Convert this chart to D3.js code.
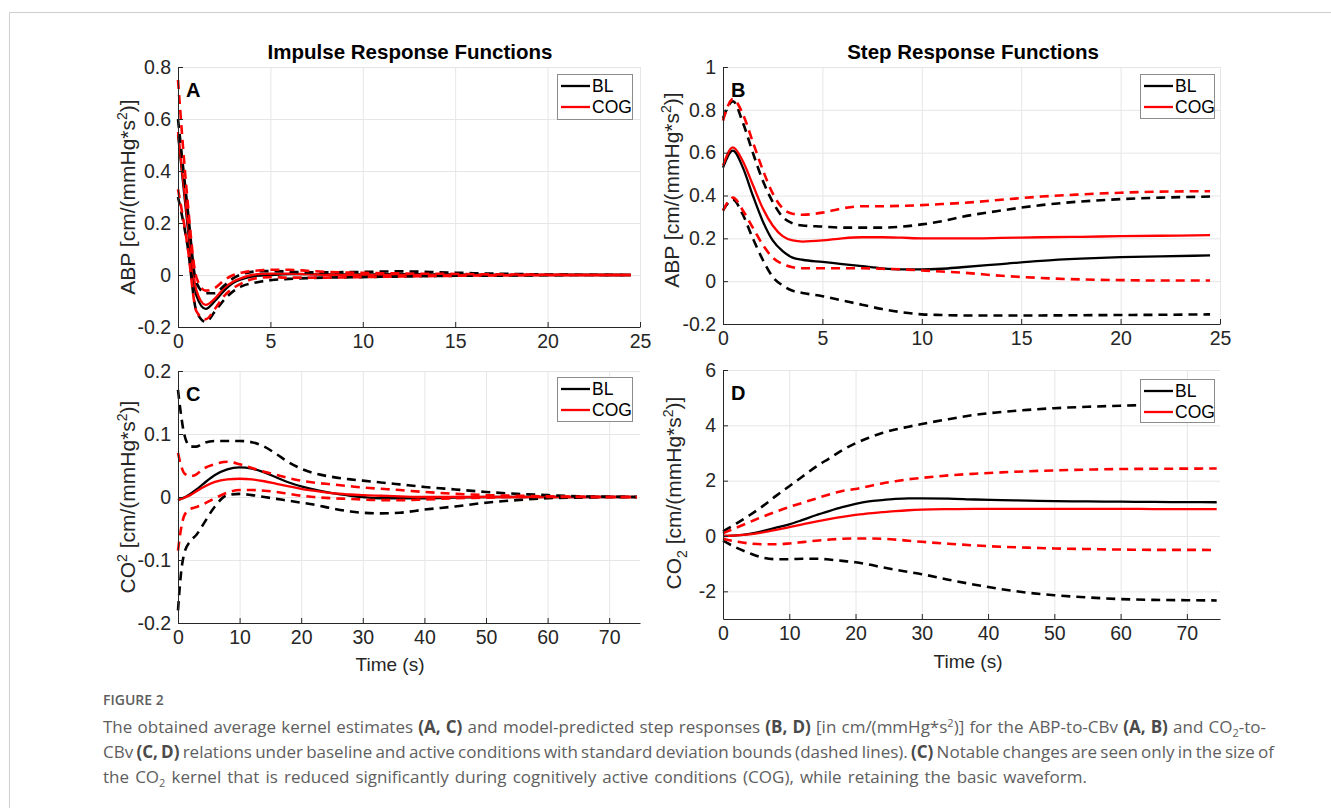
<!DOCTYPE html>
<html>
<head>
<meta charset="utf-8">
<script src="https://cdn.jsdelivr.net/npm/d3@7"></script>
<style>
  body { margin: 0; background: #fff; }
  text { font-family: "Liberation Sans", Arial, sans-serif; }
  .cap { font-family: "Open Sans", "Noto Sans", sans-serif; fill: #5e5e5e; }
</style>
</head>
<body>
<svg id="fig" width="1331" height="808"></svg>
<script>
// ---- data ----
// panel A: ABP impulse response
var tA = [0,0.5,1,1.5,2,2.5,3,3.5,4,4.5,5,6,7,8,9,10,11,12,13,14,15,16,18,20,22,24.5];
var aBL    = [0.54,0.2,-0.08,-0.13,-0.1,-0.06,-0.03,-0.015,-0.006,-0.002,0,0.003,0.003,0.002,0.002,0.002,0.003,0.003,0.003,0.002,0.002,0.001,0,0,0,0];
var aBLup  = [0.6,0.27,-0.03,-0.07,-0.07,-0.04,-0.012,0.004,0.012,0.015,0.015,0.013,0.01,0.01,0.011,0.012,0.013,0.014,0.013,0.011,0.009,0.007,0.004,0.002,0.001,0];
var aBLlo  = [0.3,0.12,-0.14,-0.18,-0.14,-0.095,-0.062,-0.042,-0.032,-0.025,-0.02,-0.015,-0.012,-0.01,-0.009,-0.008,-0.007,-0.006,-0.005,-0.004,-0.003,-0.003,-0.002,-0.001,0,0];
var aCOG   = [0.55,0.22,-0.06,-0.115,-0.09,-0.05,-0.025,-0.01,0,0.004,0.005,0.005,0.003,0.001,0,0,0,0,0,0,0,0,0,0,0,0];
var aCOGup = [0.75,0.3,-0.01,-0.06,-0.05,-0.02,0,0.01,0.015,0.018,0.02,0.02,0.016,0.012,0.01,0.008,0.007,0.006,0.005,0.005,0.004,0.003,0.002,0.001,0,0];
var aCOGlo = [0.33,0.12,-0.14,-0.17,-0.13,-0.08,-0.05,-0.03,-0.016,-0.01,-0.008,-0.01,-0.01,-0.01,-0.009,-0.008,-0.007,-0.006,-0.005,-0.004,-0.003,-0.002,-0.001,0,0,0];

// panel B: ABP step response
var tB = [0,0.5,1,1.5,2,2.5,3,3.5,4,5,6,7,8,9,10,11,12,14,16,18,20,22,24.5];
var bBL    = [0.53,0.61,0.53,0.4,0.28,0.19,0.14,0.11,0.1,0.09,0.08,0.07,0.06,0.055,0.055,0.058,0.065,0.08,0.095,0.105,0.112,0.116,0.12];
var bBLup  = [0.76,0.84,0.74,0.6,0.47,0.37,0.3,0.27,0.26,0.255,0.25,0.25,0.25,0.255,0.265,0.28,0.3,0.33,0.355,0.372,0.383,0.39,0.395];
var bBLlo  = [0.33,0.38,0.31,0.2,0.1,0.02,-0.02,-0.045,-0.055,-0.07,-0.09,-0.11,-0.13,-0.145,-0.155,-0.158,-0.16,-0.16,-0.16,-0.159,-0.158,-0.157,-0.155];
var bCOG   = [0.54,0.625,0.56,0.45,0.34,0.26,0.21,0.19,0.185,0.19,0.2,0.205,0.205,0.203,0.2,0.2,0.2,0.202,0.205,0.207,0.21,0.212,0.215];
var bCOGup = [0.75,0.85,0.78,0.65,0.52,0.41,0.34,0.315,0.31,0.32,0.34,0.35,0.35,0.352,0.355,0.36,0.365,0.38,0.395,0.405,0.413,0.418,0.42];
var bCOGlo = [0.33,0.39,0.33,0.25,0.17,0.11,0.08,0.065,0.06,0.06,0.06,0.06,0.058,0.055,0.05,0.045,0.04,0.025,0.015,0.008,0.005,0.003,0.003];

// panel C: CO2 impulse response
var tC = [0,0.5,1,2,3,4,6,8,10,12,14,16,18,20,22,25,28,30,33,36,40,45,50,55,60,65,70,74.5];
var cBL    = [-0.005,-0.003,-0.001,0.005,0.012,0.02,0.035,0.044,0.047,0.045,0.039,0.031,0.023,0.017,0.012,0.006,0.002,0,-0.002,-0.002,-0.002,-0.001,0,0,0,0,0,0];
var cBLup  = [0.17,0.13,0.1,0.08,0.08,0.085,0.089,0.089,0.089,0.087,0.08,0.068,0.055,0.045,0.038,0.032,0.028,0.026,0.023,0.02,0.016,0.012,0.008,0.005,0.003,0.001,0.0005,0];
var cBLlo  = [-0.18,-0.12,-0.09,-0.07,-0.06,-0.045,-0.015,0.003,0.005,0.003,0,-0.003,-0.006,-0.009,-0.012,-0.018,-0.023,-0.025,-0.026,-0.025,-0.02,-0.015,-0.009,-0.005,-0.002,-0.001,0,0];
var cCOG   = [-0.005,-0.003,-0.001,0.003,0.009,0.015,0.024,0.028,0.029,0.028,0.025,0.021,0.017,0.013,0.01,0.006,0.004,0.003,0.002,0.001,0,0,0,0,0,0,0,0];
var cCOGup = [0.07,0.05,0.038,0.033,0.036,0.044,0.052,0.056,0.052,0.046,0.04,0.035,0.03,0.026,0.023,0.02,0.017,0.015,0.013,0.011,0.008,0.005,0.003,0.002,0.001,0.0005,0,0];
var cCOGlo = [-0.085,-0.05,-0.03,-0.019,-0.016,-0.012,-0.002,0.007,0.011,0.011,0.01,0.008,0.005,0.002,0,-0.002,-0.003,-0.004,-0.005,-0.005,-0.004,-0.002,-0.001,0,0,0,0,0];

// panel D: CO2 step response
var tD = [0,2,4,6,8,10,12,14,16,18,20,22,24,26,28,30,34,38,42,46,50,55,60,65,70,74.5];
var dBL    = [0,0.02,0.08,0.18,0.3,0.42,0.58,0.75,0.9,1.04,1.16,1.25,1.3,1.34,1.36,1.36,1.35,1.32,1.3,1.28,1.26,1.25,1.24,1.23,1.225,1.22];
var dBLup  = [0.17,0.45,0.75,1.08,1.45,1.8,2.15,2.5,2.8,3.1,3.35,3.55,3.72,3.85,3.95,4.05,4.22,4.38,4.48,4.56,4.62,4.67,4.71,4.74,4.76,4.77];
var dBLlo  = [-0.17,-0.42,-0.62,-0.78,-0.84,-0.84,-0.82,-0.82,-0.85,-0.9,-0.95,-1.03,-1.13,-1.22,-1.3,-1.38,-1.58,-1.76,-1.92,-2.05,-2.14,-2.22,-2.28,-2.31,-2.32,-2.33];
var dCOG   = [0,0.02,0.06,0.13,0.22,0.32,0.42,0.52,0.61,0.69,0.76,0.82,0.86,0.9,0.93,0.95,0.97,0.98,0.98,0.98,0.98,0.98,0.98,0.975,0.97,0.97];
var dCOGup = [0.1,0.3,0.5,0.7,0.88,1.05,1.2,1.35,1.5,1.63,1.7,1.8,1.9,1.98,2.05,2.1,2.19,2.25,2.3,2.34,2.37,2.4,2.42,2.43,2.435,2.44];
var dCOGlo = [-0.1,-0.2,-0.27,-0.3,-0.3,-0.27,-0.22,-0.17,-0.13,-0.1,-0.09,-0.09,-0.1,-0.13,-0.17,-0.21,-0.28,-0.34,-0.39,-0.42,-0.45,-0.47,-0.49,-0.5,-0.5,-0.51];

// tick labels
var xTicksShort = [0,5,10,15,20,25];
var xTicksLong  = [0,10,20,30,40,50,60,70];
var yTicksA = ["-0.2","0","0.2","0.4","0.6","0.8"];
var yTicksB = ["-0.2","0","0.2","0.4","0.6","0.8","1"];
var yTicksC = ["-0.2","-0.1","0","0.1","0.2"];
var yTicksD = ["-2","0","2","4","6"];
var legendNames = ["BL", "COG"];
var seriesColors = ["#000000", "#ff0000"];

var svg = d3.select("#fig");

// outer frame of the figure block
svg.append("path")
  .attr("d", "M9.5,808 L9.5,12.5 L1331,12.5")
  .attr("fill", "none")
  .attr("stroke", "#cfcfcf");

var panels = [
  {letter: "A", l: 178, r: 640, t: 67, b: 327, xd: [0, 25], yd: [-0.2, 0.8], xt: xTicksShort, yt: yTicksA,
   time: tA, bl: [aBL, aBLup, aBLlo], cog: [aCOG, aCOGup, aCOGlo],
   ylab: "ABP", ylabMode: "none", ylx: 128, yly: 197, leg: [557, 74, 75, 45], xlab: null},
  {letter: "B", l: 723, r: 1220, t: 67, b: 324, xd: [0, 25], yd: [-0.2, 1], xt: xTicksShort, yt: yTicksB,
   time: tB, bl: [bBL, bBLup, bBLlo], cog: [bCOG, bCOGup, bCOGlo],
   ylab: "ABP", ylabMode: "none", ylx: 672, yly: 190, leg: [1140, 74, 74, 44], xlab: null},
  {letter: "C", l: 178, r: 640, t: 371, b: 623, xd: [0, 75], yd: [-0.2, 0.2], xt: xTicksLong, yt: yTicksC,
   time: tC, bl: [cBL, cBLup, cBLlo], cog: [cCOG, cCOGup, cCOGlo],
   ylab: "CO", ylabMode: "sup", ylx: 128, yly: 497, leg: [557, 377, 75, 44], xlab: [390, 671]},
  {letter: "D", l: 723, r: 1220, t: 370, b: 619, xd: [0, 75], yd: [-3, 6], xt: xTicksLong, yt: yTicksD,
   time: tD, bl: [dBL, dBLup, dBLlo], cog: [dCOG, dCOGup, dCOGlo],
   ylab: "CO", ylabMode: "sub", ylx: 674, yly: 493, leg: [1140, 379, 74, 43], xlab: [968, 668]}
];

panels.forEach(function(p) {
  var x = d3.scaleLinear().domain(p.xd).range([p.l, p.r]);
  var y = d3.scaleLinear().domain(p.yd).range([p.b, p.t]);
  var g = svg.append("g");

  // grid
  g.append("g")
    .attr("transform", "translate(0," + p.b + ")")
    .call(d3.axisBottom(x).tickValues(p.xt).tickSize(-(p.b - p.t)).tickFormat(""))
    .call(function(s) { s.select(".domain").remove(); s.selectAll("line").attr("stroke", "#e6e6e6"); });
  g.append("g")
    .attr("transform", "translate(" + p.l + ",0)")
    .call(d3.axisLeft(y).tickValues(p.yt.map(Number)).tickSize(-(p.r - p.l)).tickFormat(""))
    .call(function(s) { s.select(".domain").remove(); s.selectAll("line").attr("stroke", "#e6e6e6"); });

  // curves
  var line = d3.line()
    .x(function(d, i) { return x(p.time[i]); })
    .y(function(d) { return y(d); })
    .curve(d3.curveMonotoneX);
  var sets = [p.bl, p.cog];
  sets.forEach(function(set, k) {
    g.append("path").attr("d", line(set[0]))
      .attr("fill", "none").attr("stroke", seriesColors[k]).attr("stroke-width", 2.3);
  });
  sets.forEach(function(set, k) {
    [set[1], set[2]].forEach(function(vals) {
      g.append("path").attr("d", line(vals))
        .attr("fill", "none").attr("stroke", seriesColors[k]).attr("stroke-width", 2.6)
        .attr("stroke-dasharray", "9,6");
    });
  });

  // axes
  var ax = g.append("g")
    .attr("transform", "translate(0," + p.b + ")")
    .call(d3.axisBottom(x).tickValues(p.xt).tickSizeInner(-5).tickSizeOuter(0).tickPadding(7));
  var ay = g.append("g")
    .attr("transform", "translate(" + p.l + ",0)")
    .call(d3.axisLeft(y).tickValues(p.yt.map(Number)).tickFormat(function(d, i) { return p.yt[i]; })
      .tickSizeInner(-5).tickSizeOuter(0).tickPadding(7));
  [ax, ay].forEach(function(a) {
    a.select(".domain").attr("stroke", "#262626");
    a.selectAll("line").attr("stroke", "#262626");
    a.selectAll("text").attr("fill", "#262626").style("font-size", "19.5px")
      .style("font-family", "'Liberation Sans', Arial, sans-serif");
  });

  // panel letter
  g.append("text").attr("x", p.l + 8).attr("y", p.t + 30)
    .style("font-size", "20px").style("font-weight", "bold").attr("fill", "#000").text(p.letter);

  // y label
  var yl = g.append("text")
    .attr("transform", "translate(" + p.ylx + "," + p.yly + ") rotate(-90)")
    .attr("text-anchor", "middle").attr("dy", "0.35em")
    .style("font-size", "21px").attr("fill", "#262626");
  yl.append("tspan").text(p.ylab);
  if (p.ylabMode === "sup") {
    yl.append("tspan").attr("dy", -8).style("font-size", "14px").text("2");
    yl.append("tspan").attr("dy", 8).text(" [cm/(mmHg*s");
  } else if (p.ylabMode === "sub") {
    yl.append("tspan").attr("dy", 6).style("font-size", "14px").text("2");
    yl.append("tspan").attr("dy", -6).text("  [cm/(mmHg*s");
  } else {
    yl.append("tspan").text(" [cm/(mmHg*s");
  }
  yl.append("tspan").attr("dy", -8).style("font-size", "14px").text("2");
  yl.append("tspan").attr("dy", 8).text(")]");

  // x label
  if (p.xlab) {
    g.append("text").attr("x", p.xlab[0]).attr("y", p.xlab[1])
      .attr("text-anchor", "middle").style("font-size", "19px").attr("fill", "#262626")
      .text("Time (s)");
  }

  // legend
  var lg = g.append("g").attr("transform", "translate(" + p.leg[0] + "," + p.leg[1] + ")");
  lg.append("rect").attr("x", 0.5).attr("y", 0.5).attr("width", p.leg[2]).attr("height", p.leg[3])
    .attr("fill", "#fff").attr("stroke", "#8c8c8c").attr("stroke-width", 1);
  legendNames.forEach(function(name, i) {
    var yy = 12 + i * 21;
    lg.append("line").attr("x1", 4).attr("x2", 33).attr("y1", yy).attr("y2", yy)
      .attr("stroke", seriesColors[i]).attr("stroke-width", 2.3);
    lg.append("text").attr("x", 35).attr("y", yy + 6).style("font-size", "17.5px")
      .attr("fill", "#000").text(name);
  });
});

// column titles
svg.append("text").attr("x", 410).attr("y", 59).attr("text-anchor", "middle")
  .style("font-size", "20.5px").style("font-weight", "bold").attr("fill", "#000")
  .text("Impulse Response Functions");
svg.append("text").attr("x", 973).attr("y", 59).attr("text-anchor", "middle")
  .style("font-size", "20.5px").style("font-weight", "bold").attr("fill", "#000")
  .text("Step Response Functions");

// caption
svg.append("text").attr("class", "cap").attr("x", 103).attr("y", 705)
  .style("font-size", "14px").style("font-weight", 600).text("FIGURE 2");

var capLines = [
  [["The obtained average kernel estimates ", 0], ["(A, C)", 1], [" and model-predicted step responses ", 0], ["(B, D)", 1],
   [" [in cm/(mmHg*s", 0], ["2", 2], [")] for the ABP-to-CBv ", 0], ["(A, B)", 1], [" and CO", 0], ["2", 3], ["-to-", 0]],
  [["CBv ", 0], ["(C, D)", 1], [" relations under baseline and active conditions with standard deviation bounds (dashed lines). ", 0],
   ["(C)", 1], [" Notable changes are seen only in the size of", 0]],
  [["the CO", 0], ["2", 3], [" kernel that is reduced significantly during cognitively active conditions (COG), while retaining the basic waveform.", 0]]
];
var capSpacing = [0.75, -1.2, 1.7];
capLines.forEach(function(parts, li) {
  var t = svg.append("text").attr("class", "cap").attr("x", 103).attr("y", 733 + li * 25)
    .style("font-size", "17px").style("word-spacing", capSpacing[li] + "px");
  var prev = 0;
  parts.forEach(function(pt) {
    var s = t.append("tspan").text(pt[0]);
    if (pt[1] === 1) s.style("font-weight", "bold").attr("fill", "#4a4a4a");
    if (pt[1] === 2) { s.attr("dy", -6).style("font-size", "11px"); }
    if (pt[1] === 3) { s.attr("dy", 4).style("font-size", "11px"); }
    if (pt[1] === 0 && prev === 2) s.attr("dy", 6);
    if (pt[1] === 0 && prev === 3) s.attr("dy", -4);
    prev = pt[1];
  });
});
</script>
</body>
</html>
